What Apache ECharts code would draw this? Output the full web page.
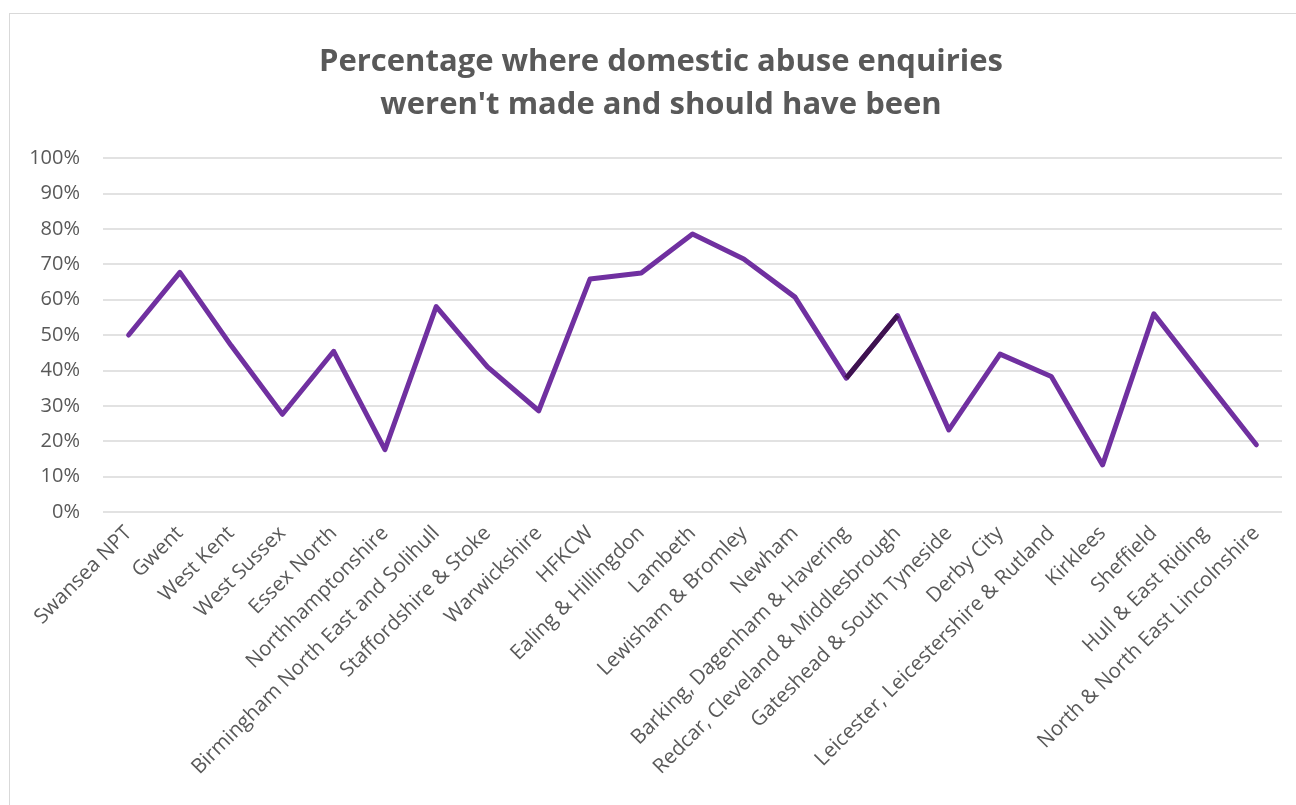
<!DOCTYPE html>
<html>
	<head>
		<meta charset="utf-8">
		<title>Domestic abuse enquiries</title>
		<style type="text/css">
			html, body {
				margin: 0;
				padding: 0;
				background: #fff;
			}

			.frame {
				position: absolute;
				left: 9px;
				top: 13px;
				width: 1400px;
				height: 900px;
				border: 1px solid #D9D9D9;
			}

			#chart {
				position: absolute;
				left: 0;
				top: 0;
				width: 1296px;
				height: 805px;
			}
		</style>
	</head>
	<body>
		<div class="frame"></div>
		<div id="chart"></div>

		<script src="https://cdn.jsdelivr.net/npm/echarts@6/dist/echarts.min.js"></script>
		<script>
			// 数据
			var areas = ['Swansea NPT', 'Gwent', 'West Kent', 'West Sussex', 'Essex North', 'Northhamptonshire',
				'Birmingham North East and Solihull', 'Staffordshire & Stoke', 'Warwickshire', 'HFKCW',
				'Ealing & Hillingdon', 'Lambeth', 'Lewisham & Bromley', 'Newham', 'Barking, Dagenham & Havering',
				'Redcar, Cleveland & Middlesbrough', 'Gateshead & South Tyneside', 'Derby City',
				'Leicester, Leicestershire & Rutland', 'Kirklees', 'Sheffield', 'Hull & East Riding',
				'North & North East Lincolnshire'];
			var pctNotMade = [50, 67.7, 47, 27.6, 45.4, 17.6, 58, 41, 28.6, 65.8, 67.5, 78.5, 71.5, 60.7,
				37.8, 55.5, 23.2, 44.6, 38.3, 13.3, 56, 37.4, 19];
			// 深色的那一段（Barking -> Redcar）
			var darkFrom = 'Barking, Dagenham & Havering';
			var darkTo = 'Redcar, Cleveland & Middlesbrough';
			var yTicks = [0, 10, 20, 30, 40, 50, 60, 70, 80, 90, 100];

			var darkSeg = areas.map(function(a, i) {
				return (a === darkFrom || a === darkTo) ? pctNotMade[i] : '-';
			});

			var font = '"Open Sans", sans-serif';
			var myChart = echarts.init(document.getElementById('chart'));

			var option = {
				animation: false,
				title: {
					text: 'Percentage where domestic abuse enquiries\nweren\'t made and should have been',
					left: 656,
					top: 36,
					textAlign: 'center',
					textStyle: {
						color: '#595959',
						fontFamily: font,
						fontWeight: 'bold',
						fontSize: 31,
						lineHeight: 43
					}
				},
				grid: {
					left: 103,
					right: 14,
					top: 158,
					bottom: 293
				},
				xAxis: {
					type: 'category',
					data: areas,
					boundaryGap: true,
					axisLine: {
						show: false
					},
					axisTick: {
						show: false
					},
					axisLabel: {
						rotate: 45,
						interval: 0,
						margin: 18,
						color: '#595959',
						fontFamily: font,
						fontSize: 20.5
					}
				},
				yAxis: {
					type: 'value',
					min: yTicks[0],
					max: yTicks[yTicks.length - 1],
					interval: 10,
					axisLine: {
						show: false
					},
					axisTick: {
						show: false
					},
					axisLabel: {
						formatter: '{value}%',
						margin: 23,
						color: '#595959',
						fontFamily: font,
						fontSize: 20
					},
					splitLine: {
						lineStyle: {
							color: '#D9D9D9',
							width: 1.5
						}
					}
				},
				series: [{
					type: 'line',
					data: pctNotMade,
					symbol: 'none',
					lineStyle: {
						color: '#7030A0',
						width: 5,
						join: 'round',
						cap: 'round'
					}
				}, {
					type: 'line',
					data: darkSeg,
					symbol: 'none',
					lineStyle: {
						color: '#3E124F',
						width: 5,
						cap: 'butt'
					}
				}]
			};

			myChart.setOption(option);
		</script>
	</body>
</html>
